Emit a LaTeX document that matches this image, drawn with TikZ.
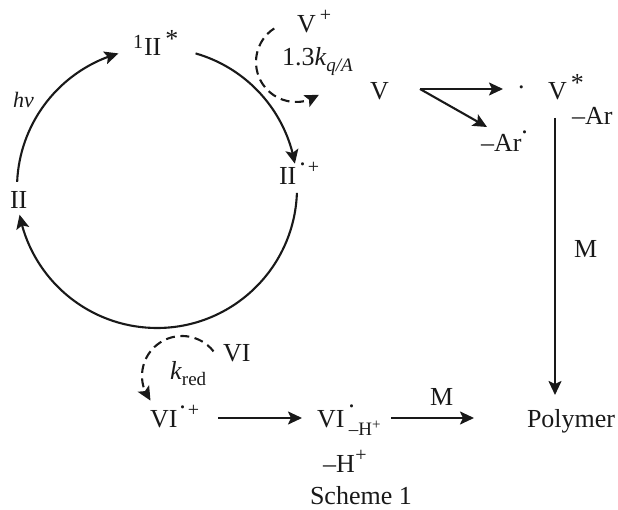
\documentclass[tikz,border=0pt]{standalone}
\usepackage{fontspec}
\setmainfont{Liberation Serif}
\usetikzlibrary{arrows.meta,bending,calc}
\newcommand{\hightxt}[2]{\raisebox{#1}{\fontsize{20}{23}\selectfont #2}}
\newcommand{\lowtxt}[2]{\raisebox{-#1}{\fontsize{19}{22}\selectfont #2}}
\newcommand{\rdot}[1]{\raisebox{#1}{.}}
\tikzset{
  lab/.style={anchor=base west,inner sep=0pt,outer sep=0pt,font=\fontsize{26}{30}\selectfont,text=black!90},
  arr/.style={line width=2.1pt,draw=black!90,-{Stealth[length=14pt,width=13pt,inset=3pt,flex]}},
  darr/.style={arr,dash pattern=on 9pt off 5.5pt}
}
\begin{document}
\begin{tikzpicture}[x=1pt,y=1pt]
\useasboundingbox (0,0) rectangle (618,509);
% labels: positions are baselines, y = 509 - pixel row
\node[lab] (II) at (10,300) {II};
\node[lab] (IIs) at (133,453) {\hightxt{7pt}{1}\kern1pt II\kern4pt\raisebox{8.5pt}{*}};
\node[lab] (IIp) at (279,324) {II\kern3pt\rdot{19pt}\kern2pt\hightxt{11pt}{+}};
\node[lab,font=\fontsize{22}{25}\selectfont\itshape] (hv) at (13,401) {hν};
\node[lab] (Vp) at (297,476) {V\kern4pt\hightxt{11pt}{+}};
\node[lab] (kq) at (282,443) {1.3\textit{k}\lowtxt{6pt}{\textit{q/A}}};
\node[lab] (V) at (370,409) {V};
\node[lab] (Vdot) at (518,420) {\rdot{0pt}};
\node[lab] (Vs) at (548,409) {V\kern4pt\raisebox{8.5pt}{*}};
\node[lab] (ArA) at (572,384) {–Ar};
\node[lab] (ArB) at (481,357) {–Ar\rdot{18pt}};
\node[lab] (Mv) at (574,251) {M};
\node[lab] (VI) at (223,148) {VI};
\node[lab] (kr) at (170,130) {\textit{k}\lowtxt{6pt}{red}};
\node[lab] (VIp) at (150,82) {VI\kern2pt\rdot{19pt}\kern2pt\hightxt{11pt}{+}};
\node[lab] (VIr) at (317,82) {VI\kern4pt\rdot{20pt}\kern-6pt\lowtxt{8pt}{–H\raisebox{6pt}{\fontsize{15}{17}\selectfont +}}};
\node[lab] (Mh) at (430,104) {M};
\node[lab] (Pol) at (527,82) {Polymer};
\node[lab] (H) at (323,37) {–H\kern0.5pt\hightxt{11pt}{+}};
\node[lab] (Sch) at (310,5) {Scheme 1};
% big cycle
\coordinate (cyc) at (157,321);
\coordinate (aS) at ([shift={(177.5:140)}]cyc);
\coordinate (bS) at ([shift={(74:140)}]cyc);
\coordinate (cS) at ([shift={(-2:140)}]cyc);
\draw[arr] (aS) arc[start angle=177.5,end angle=106,radius=140];
\draw[arr] (bS) arc[start angle=74,end angle=10,radius=140];
\draw[arr] (cS) arc[start angle=-2,end angle=-169,radius=140];
% dashed quenching arcs
\coordinate (lq) at (296,447);
\coordinate (qS) at ([shift={(123:40)}]lq);
\draw[darr] (qS) arc[start angle=123,end angle=305,radius=40];
\coordinate (lr) at (182,133);
\coordinate (rS) at ([shift={(38:40)}]lr);
\draw[darr] (rS) arc[start angle=38,end angle=218,radius=40];
% straight connectors
\draw[arr] ([shift={(50,11)}]V.base west) -- ([shift={(-15,0)}]Vdot.base west);
\draw[arr] ([shift={(50,11)}]V.base west) -- ([shift={(117,-27)}]V.base west);
\draw[arr] ([shift={(7,-18)}]Vs.base west) -- ([shift={(7,-295)}]Vs.base west);
\draw[arr] ([shift={(68,9)}]VIp.base west) -- ([shift={(-15,9)}]VIr.base west);
\draw[arr] ([shift={(74,9)}]VIr.base west) -- ([shift={(-53,9)}]Pol.base west);
\end{tikzpicture}
\end{document}
